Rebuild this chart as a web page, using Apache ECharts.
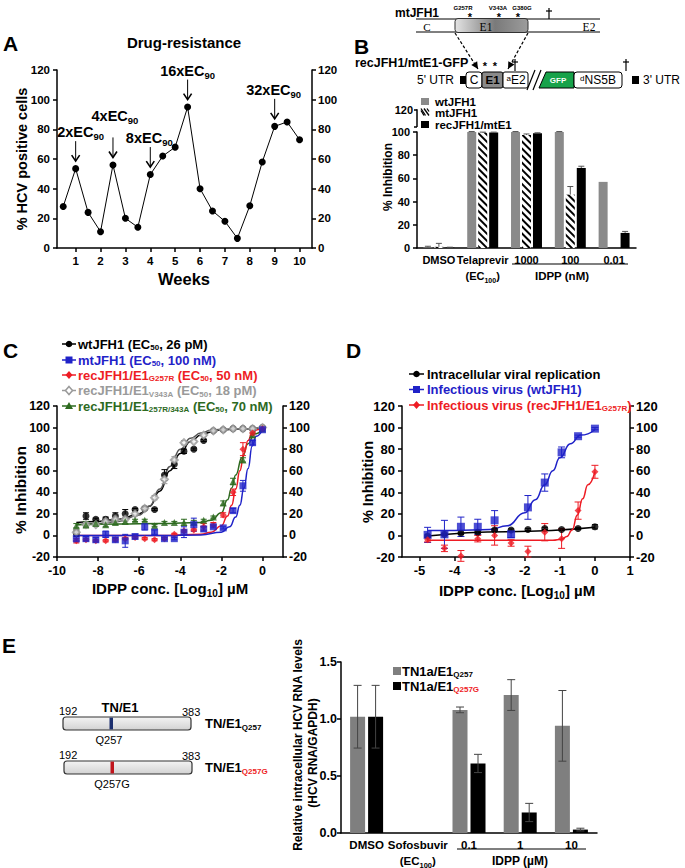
<!DOCTYPE html>
<html><head><meta charset="utf-8">
<script src="https://cdn.jsdelivr.net/npm/echarts@6/dist/echarts.min.js"></script>
<style>html,body{margin:0;padding:0;background:#fff}#c{width:685px;height:868px}</style>
</head><body><div id="c"></div><script>
// ================= DATA =================
// Panel A
const weeksA = [0.5,1,1.5,2,2.5,3,3.5,4,4.5,5,5.5,6,6.5,7,7.5,8,8.5,9,9.5,10];
const hcvPositiveA = [28,53.5,24,11,56,20,14,49.5,62,68,95,40,25,18,6.5,28.5,58,82,85,73];
const doseWeeksA = [1,2.5,4,5.5,9];
const doseFoldA = ['2','4','8','16','32'];
const weekTicksA = [1,2,3,4,5,6,7,8,9,10];
// Panel B
const catsB = ['DMSO','Telaprevir','1000','100','0.01'];
const wtB = [0.5,100,100,100,57];      const wtErrB = [1,0.4,0.4,0.4,0];
const mtB = [1,99.5,97.5,46,0];        const mtErrB = [3,0.4,0.8,7,0];
const recB = [0.3,99.5,99,69,13];      const recErrB = [0.4,0.4,0.3,1.5,1.3];
const legendB = ['wtJFH1','mtJFH1','recJFH1/mtE1'];
// Panel C
const logConcC = [-9.06,-8.59,-8.11,-7.63,-7.16,-6.68,-6.2,-5.73,-5.25,-4.77,-4.29,-3.82,-3.34,-2.86,-2.39,-1.91,-1.43,-0.95,-0.48,0];
const wtC    = [2,18,15,15,18,20,24,25,24,56,66,78,80,88,97,98,99,99,99,100];
const wtErrC = [3,3,1,2,3,4,1,1,1,5,4,2,1,1,1,1,0.5,0.5,0.5,0.5];
const mtC    = [-3,-3,-4,1,-4,-5,-1,8,3,-3,-3,3,10,6,8,7,23,46,86,98];
const mtErrC = [3,2,2,3,2,6,2,3,2,1,1,5,6,2,1,1,2,5,2,1];
const g257rC    = [-5,-4,-5,-5,-4,-3,-2,-3,-4,-3,1,4,5,8,10,19,40,80,95,99];
const g257rErrC = [2,1,1,1,1,1,1,1,1,1,1,1,1,3,2,2,3,6,2,1];
const v343aC    = [3,10,10,13,15,15,20,25,35,52,70,86,87,93,97,98,99,99,99,100];
const v343aErrC = [2,2,1,2,2,2,2,2,2,4,3,2,1,1,1,1,0.5,0.5,0.5,0.5];
const dblC    = [9,10,11,10,12,13,14,14,9,12,12,12,12,14,17,30,50,70,93,99];
const dblErrC = [2,3,1,2,2,2,1,1,1,1,1,3,2,1,1,2,3,2,2,1];
// fitted curves
const fitXwtC = [-9.06,-8,-7,-6,-5.5,-5,-4.5,-4,-3.5,-3,-2.5,-2,-1,0];
const fitYwtC = [12,13,15,20,27,41,60,76,87,93,96,98,99,99.5];
const fitXv343aC = [-9.06,-8,-7,-6,-5.5,-5,-4.5,-4,-3.5,-3,-2.5,-2,-1,0];
const fitYv343aC = [10,11,13,19,27,43,64,80,90,95,97.5,98.5,99,99.5];
const fitXdblC = [-9.06,-7,-5,-3,-2.5,-2,-1.7,-1.5,-1.3,-1,-0.7,-0.4,0];
const fitYdblC = [10,10.5,11,12,14,21,33,44,56,72,85,94,98];
const fitXg257rC = [-9.06,-5,-3,-2.5,-2,-1.7,-1.5,-1.3,-1.1,-0.9,-0.7,-0.5,-0.25,0];
const fitYg257rC = [0,0,1,3,9,18,28,43,60,76,88,95,98,99];
const fitXmtC = [-9.06,-5,-3,-2,-1.6,-1.3,-1.1,-0.9,-0.7,-0.5,-0.3,0];
const fitYmtC = [0,0,0.5,3,8,17,28,44,62,83,92,98];
const legendC = [
  '{m|wtJFH1 (EC}{s|50}{m|, 26 pM)}',
  '{m|mtJFH1 (EC}{s|50}{m|, 100 nM)}',
  '{m|recJFH1/E1}{s|G257R}{m| (EC}{s|50}{m|, 50 nM)}',
  '{m|recJFH1/E1}{s|V343A}{m| (EC}{s|50}{m|, 18 pM)}',
  '{m|recJFH1/E1}{s|257R/343A}{m| (EC}{s|50}{m|, 70 nM)}'
];
const logTicksC = [-10,-8,-6,-4,-2,0];
// Panel D
const logConcD = [-4.77,-4.29,-3.82,-3.34,-2.86,-2.39,-1.91,-1.43,-0.95,-0.48,0];
const replD    = [-0.5,1,2,3,5,5,5.5,6.5,5.5,6.5,8];
const replErrD = [1,1,1,1,1,1,1,1,1,1,2];
const wtVirD    = [0.5,1,8,8,14,1,26,49,77,92,99];
const wtVirErrD = [7,13,9,7,9,3,11,8,5,1,1];
const recVirD    = [-4,-12,-19,-3,0,-7,-15,3,-3,23,59];
const recVirErrD = [2,3,5,3,9,3,5,8,9,8,6];
const fitXreplD = [-4.77,-2.5,0];  const fitYreplD = [-0.5,3.5,7.5];
const fitXwtVirD = [-4.77,-4,-3,-2.5,-2,-1.7,-1.43,-1.2,-1,-0.7,-0.4,0];
const fitYwtVirD = [4.5,4.6,5.5,9,21,33,47,60,72,85,93,98];
const fitXrecVirD = [-4.77,-2,-1.2,-0.95,-0.8,-0.65,-0.5,-0.35,-0.2,0];
const fitYrecVirD = [-4.5,-4.5,-4.4,-3.5,-1,5,19,34,47,59];
const legendD = [
  '{m|Intracellular viral replication}',
  '{m|Infectious virus (wtJFH1)}',
  '{m|Infectious virus (recJFH1/E1}{s|G257R}{m|)}'
];
const logTicksD = [-5,-4,-3,-2,-1,0,1];
// Panel E
const catsE = ['DMSO','Sofosbuvir','0.1','1','10'];
const q257E  = [1.02,0,1.08,1.21,0.94];  const q257ErrE  = [0.275,0,0.025,0.135,0.31];
const q257gE = [1.02,0,0.61,0.18,0.03];  const q257gErrE = [0.275,0,0.08,0.08,0.012];

// ================= STYLE HELPERS =================
const FONT = "'Liberation Sans', Arial, Helvetica, sans-serif";
const SERIF = "'Liberation Serif', 'Times New Roman', serif";
const BLUE = '#1f22c8', RED = '#ee1c24', GRAY = '#9a9a9a', GREEN = '#2d6a1f';
const zip = (a, b) => a.map((v, i) => [v, b[i]]);
const zip3 = (a, b, c) => a.map((v, i) => [v, b[i], c[i]]);

function richDef(size, color, subColor, lhFactor) {
  const ss = Math.round(size * 0.64);
  const lh = Math.round(size * (lhFactor || 1.3));
  return {
    m: {fontSize: size, fontWeight: 'bold', fontFamily: FONT, color: color, fill: color, lineHeight: lh, verticalAlign: 'middle'},
    s: {fontSize: ss, fontWeight: 'bold', fontFamily: FONT, color: color, fill: color, lineHeight: ss, verticalAlign: 'bottom'},
    r: {fontSize: ss, fontWeight: 'bold', fontFamily: FONT, color: subColor || RED, fill: subColor || RED, lineHeight: ss, verticalAlign: 'bottom'},
    u: {fontSize: ss, fontWeight: 'normal', fontFamily: FONT, color: color, fill: color, lineHeight: ss, verticalAlign: 'top'},
    n: {fontSize: size, fontWeight: 'normal', fontFamily: FONT, color: color, fill: color, lineHeight: size, verticalAlign: 'top'}
  };
}
const AX = {color: '#000', width: 1.5};
function lab(size, extra) {
  return Object.assign({color: '#000', fontFamily: FONT, fontWeight: 'bold', fontSize: size, hideOverlap: false}, extra || {});
}
function valX(grid, min, max, ticks, size) {
  return {gridIndex: grid, type: 'value', min, max,
    axisLine: {show: true, onZero: false, lineStyle: AX},
    axisTick: {show: true, length: 4, lineStyle: AX, customValues: ticks},
    axisLabel: lab(size, {customValues: ticks, margin: 7}),
    splitLine: {show: false}};
}
function valY(grid, min, max, interval, pos, size, fmt, margin) {
  return {gridIndex: grid, type: 'value', min, max, interval, position: pos,
    axisLine: {show: true, onZero: false, lineStyle: AX},
    axisTick: {show: true, length: 4, lineStyle: AX},
    axisLabel: lab(size, {margin: margin != null ? margin : (pos === 'right' ? 6 : 7), formatter: fmt}),
    splitLine: {show: false}};
}

// ================= GRAPHICS (schematics, legends, titles) =================
const G = [];
function T(x, y, text, o) {
  o = o || {};
  const el = {type: 'text', x, y, rotation: o.rot || 0, z: 100,
    style: {text, fill: o.color || '#000', fontSize: o.size || 12, fontWeight: o.weight || 'bold',
      fontFamily: o.family || FONT, align: o.align || 'left', verticalAlign: 'middle'}};
  if (o.rich) el.style.rich = o.rich;
  G.push(el);
}
function L(x1, y1, x2, y2, o) {
  o = o || {};
  G.push({type: 'line', z: 100, shape: {x1, y1, x2, y2}, style: {stroke: o.color || '#000', lineWidth: o.lw || 1, lineDash: o.dash || null}});
}
function R(x, y, w, h, o) {
  o = o || {};
  G.push({type: 'rect', z: o.z || 100, shape: {x, y, width: w, height: h, r: o.r || 0},
    style: {fill: o.fill || '#fff', stroke: o.stroke || null, lineWidth: o.lw || 1}});
}
function dagger(x, yTop, yBot) {
  L(x, yTop, x, yBot, {lw: 1.2});
  L(x - 3, yTop + 3, x + 3, yTop + 3, {lw: 1.2});
}
function arrow(x1, y1, x2, y2) {
  L(x1, y1, x2, y2, {dash: [3, 2], lw: 1.2});
  const dx = x2 - x1, dy = y2 - y1, len = Math.hypot(dx, dy), ux = dx / len, uy = dy / len;
  const s = 7, w = 3.5;
  G.push({type: 'polygon', z: 101, shape: {points: [[x2, y2], [x2 - ux * s - uy * w, y2 - uy * s + ux * w], [x2 - ux * s + uy * w, y2 - uy * s - ux * w]]}, style: {fill: '#000'}});
}
function sym(kind, cx, cy, color) {
  let el;
  if (kind === 'circle') el = {type: 'circle', shape: {cx, cy, r: 3.3}, style: {fill: color}};
  else if (kind === 'rect') el = {type: 'rect', shape: {x: cx - 3.5, y: cy - 3.5, width: 7, height: 7}, style: {fill: color}};
  else if (kind === 'diamond') el = {type: 'polygon', shape: {points: [[cx, cy - 4], [cx + 3.5, cy], [cx, cy + 4], [cx - 3.5, cy]]}, style: {fill: color}};
  else if (kind === 'emptyDiamond') el = {type: 'polygon', shape: {points: [[cx, cy - 4], [cx + 3.5, cy], [cx, cy + 4], [cx - 3.5, cy]]}, style: {fill: '#fff', stroke: color, lineWidth: 1.5}};
  else el = {type: 'polygon', shape: {points: [[cx, cy - 4], [cx + 4, cy + 3], [cx - 4, cy + 3]]}, style: {fill: color}};
  el.z = 101; G.push(el);
}

// Panel letters
T(3, 43, 'A', {size: 21}); T(354, 46, 'B', {size: 21}); T(3, 350, 'C', {size: 21});
T(346, 350, 'D', {size: 21}); T(2, 645, 'E', {size: 21});

// Panel A texts
T(184, 42, 'Drug-resistance', {size: 15, align: 'center'});
T(22, 159, '% HCV positive cells', {size: 14.5, align: 'center', rot: Math.PI / 2});
T(184, 279, 'Weeks', {size: 16.5, align: 'center'});

// Panel B schematic: mtJFH1
T(395, 12.5, 'mtJFH1', {size: 12});
L(416, 19, 600, 19, {lw: 1}); L(416, 32, 600, 32, {lw: 1});
G.push({type: 'rect', z: 100, shape: {x: 455, y: 18.5, width: 73, height: 14, r: 3},
  style: {stroke: '#333', lineWidth: 1, fill: {type: 'linear', x: 0, y: 0, x2: 1, y2: 0,
    colorStops: [{offset: 0, color: '#e4e4e4'}, {offset: 0.55, color: '#7a7a7a'}, {offset: 1, color: '#9c9c9c'}]}}});
T(427, 26.5, 'C', {size: 11, weight: 'normal', family: SERIF, align: 'center'});
T(486, 26.5, 'E1', {size: 11.5, weight: 'normal', family: SERIF, align: 'center'});
T(589, 26.5, 'E2', {size: 11.5, weight: 'normal', family: SERIF, align: 'center'});
T(463, 7.5, 'G257R', {size: 6, align: 'center'}); T(498, 7.5, 'V343A', {size: 6, align: 'center'}); T(522, 7.5, 'G380G', {size: 6, align: 'center'});
T(470, 17, '*', {size: 11, align: 'center'}); T(499, 17, '*', {size: 11, align: 'center'}); T(518, 17, '*', {size: 11, align: 'center'});
dagger(549, 8, 19);
arrow(455, 33, 478, 69); arrow(528, 33, 508, 69);
// recJFH1/mtE1-GFP
T(355, 63, 'recJFH1/mtE1-GFP', {size: 12.5});
T(417, 80, "5' UTR", {size: 12, weight: 'normal'});
R(460, 76, 7, 8, {fill: '#000'});
R(466, 72, 16, 16, {stroke: '#000', r: 3});
T(474, 80, 'C', {size: 12, weight: 'normal', align: 'center'});
R(482, 72, 21, 16, {fill: '#8a8a8a', stroke: '#000', r: 2});
T(492.5, 80, 'E1', {size: 11.5, align: 'center'});
R(503, 72, 25, 16, {stroke: '#000', r: 2});
T(516, 80, '{u|a}{n|E2}', {size: 12, weight: 'normal', align: 'center', rich: richDef(12, '#000')});
L(527, 90, 535, 70, {lw: 1.2}); L(533, 90, 541, 70, {lw: 1.2});
G.push({type: 'polygon', z: 100, shape: {points: [[539, 88], [546, 72], [574, 72], [574, 88]]}, style: {fill: '#17a24a', stroke: '#000', lineWidth: 1}});
T(558, 80, 'GFP', {size: 8, color: '#fff', align: 'center'});
R(574, 72, 48, 16, {stroke: '#000', r: 3});
T(598, 80, '{u|d}{n|NS5B}', {size: 12, weight: 'normal', align: 'center', rich: richDef(12, '#000')});
R(632, 76, 7, 8, {fill: '#000'});
T(643, 80, "3' UTR", {size: 12, weight: 'normal'});
T(485, 66, '*', {size: 11, align: 'center'}); T(495, 66, '*', {size: 11, align: 'center'});
dagger(515, 59, 71); dagger(626, 59, 71);
// Panel B legend & extras
R(421, 98, 8, 7, {fill: '#8a8a8a'});
R(421, 108.5, 8, 7, {fill: '#fff'});
L(421, 110.5, 424, 115.5, {lw: 1.3}); L(421, 108.5, 425.5, 115.5, {lw: 1.3}); L(424, 108.5, 429, 115.5, {lw: 1.3}); L(427, 108.5, 429, 111.5, {lw: 1.3});
R(421, 121, 8, 7, {fill: '#000'});
T(435, 101.5, legendB[0], {size: 11.5}); T(435, 112.5, legendB[1], {size: 11.5}); T(435, 124.5, legendB[2], {size: 11.5});
T(413, 110, '120', {size: 11, align: 'right'});
L(414, 110, 417, 110, {lw: 1.5}); L(417, 109.3, 417, 127, {lw: 1.5}); L(414, 127, 417, 127, {lw: 1.5});
T(388, 177, '% Inhibition', {size: 12, align: 'center', rot: Math.PI / 2});
L(512, 264, 628, 264, {lw: 1.2});
T(562, 276, 'IDPP (nM)', {size: 11.5, align: 'center'});

// Panel C legend & labels
const legSymC = ['circle', 'rect', 'diamond', 'emptyDiamond', 'triangle'];
const legColC = ['#000', BLUE, RED, GRAY, GREEN];
const legYC = [344, 360, 375, 390.5, 406];
legendC.forEach((t, i) => {
  L(62, legYC[i], 76, legYC[i], {color: legColC[i], lw: 1.5});
  sym(legSymC[i], 69, legYC[i], legColC[i]);
  T(78, legYC[i], t, {size: 13, rich: richDef(13, legColC[i], null, 1.18)});
});
T(20, 490, '% Inhibition', {size: 15.5, align: 'center', rot: Math.PI / 2});
T(170, 588, '{m|IDPP conc. [Log}{s|10}{m|] \u00b5M}', {size: 15, align: 'center', rich: richDef(15, '#000')});

// Panel D legend & labels
const legSymD = ['circle', 'rect', 'diamond'];
const legColD = ['#000', BLUE, RED];
const legYD = [374, 389.5, 405];
legendD.forEach((t, i) => {
  L(409, legYD[i], 424, legYD[i], {color: legColD[i], lw: 1.5});
  sym(legSymD[i], 416.5, legYD[i], legColD[i]);
  T(427, legYD[i], t, {size: 13, rich: richDef(13, legColD[i], null, 1.18)});
});
T(368, 482, '% Inhibition', {size: 14.5, align: 'center', rot: Math.PI / 2});
T(517, 590, '{m|IDPP conc. [Log}{s|10}{m|] \u00b5M}', {size: 15, align: 'center', rich: richDef(15, '#000')});

// Panel E schematic
const barGrad = {type: 'linear', x: 0, y: 0, x2: 0, y2: 1, colorStops: [{offset: 0, color: '#f4f4f4'}, {offset: 1, color: '#d2d2d2'}]};
T(120, 707, 'TN/E1', {size: 13, align: 'center'});
T(59, 711, '192', {size: 11, weight: 'normal'}); T(182, 712, '383', {size: 11, weight: 'normal'});
G.push({type: 'rect', z: 100, shape: {x: 63, y: 717, width: 128, height: 13, r: 3}, style: {fill: barGrad, stroke: '#333', lineWidth: 1.2}});
R(109.5, 717.6, 3.5, 11.8, {fill: '#1c2f6e', z: 101});
T(109, 740, 'Q257', {size: 11, weight: 'normal', align: 'center'});
T(205, 723, '{m|TN/E1}{s|Q257}', {size: 13, rich: richDef(13, '#000')});
T(59, 755, '192', {size: 11, weight: 'normal'}); T(182, 756, '383', {size: 11, weight: 'normal'});
G.push({type: 'rect', z: 100, shape: {x: 64, y: 761, width: 128, height: 13, r: 3}, style: {fill: barGrad, stroke: '#333', lineWidth: 1.2}});
R(110.5, 761.6, 3.5, 11.8, {fill: '#c0141c', z: 101});
T(112, 784, 'Q257G', {size: 11, weight: 'normal', align: 'center'});
T(205, 767, '{m|TN/E1}{r|Q257G}', {size: 13, rich: richDef(13, '#000')});
// Panel E legend & labels
R(393, 667, 8, 8, {fill: '#7f7f7f'}); R(393, 682, 8, 8, {fill: '#000'});
T(402, 671, '{m|TN1a/E1}{s|Q257}', {size: 13, rich: richDef(13, '#000', null, 1.15)});
T(402, 686, '{m|TN1a/E1}{r|Q257G}', {size: 13, rich: richDef(13, '#000', null, 1.15)});
T(298, 745, 'Relative intracellular HCV RNA levels', {size: 12, align: 'center', rot: Math.PI / 2});
T(313, 753, '(HCV RNA/GAPDH)', {size: 12, align: 'center', rot: Math.PI / 2});
L(457, 849, 586, 849, {lw: 1.2});
T(520, 861, 'IDPP (\u00b5M)', {size: 12, align: 'center'});

// ================= SERIES HELPERS =================
function errSeries(xi, yi, data, o) {
  return {type: 'custom', coordinateSystem: 'cartesian2d', xAxisIndex: xi, yAxisIndex: yi, z: o.z || 3, silent: true,
    data: data,
    renderItem: function (params, api) {
      const x = api.value(0), y = api.value(1), e = api.value(2);
      if (!(e > 0)) return null;
      const top = api.coord([x, y + e]);
      const bot = api.coord([x, o.oneSided ? y : y - e]);
      const cx = top[0] + (o.off || 0), c = o.cap || 3;
      const st = {stroke: o.color, lineWidth: o.lw || 1};
      const ch = [
        {type: 'line', shape: {x1: cx, y1: top[1], x2: cx, y2: bot[1]}, style: st},
        {type: 'line', shape: {x1: cx - c, y1: top[1], x2: cx + c, y2: top[1]}, style: st}
      ];
      if (!o.oneSided) ch.push({type: 'line', shape: {x1: cx - c, y1: bot[1], x2: cx + c, y2: bot[1]}, style: st});
      return {type: 'group', children: ch};
    }};
}
function fitLine(xi, yi, xs, ys, color) {
  return {type: 'line', xAxisIndex: xi, yAxisIndex: yi, data: zip(xs, ys), smooth: 0.5, smoothMonotone: 'x',
    showSymbol: false, symbol: 'none', silent: true, z: 2, lineStyle: {color, width: 1.5}};
}
function pts(xi, yi, xs, ys, color, symbol, size) {
  const st = symbol === 'emptyDiamond' ? {color: color, borderColor: color, borderWidth: 1.5} : {color: color};
  return {type: 'scatter', xAxisIndex: xi, yAxisIndex: yi, data: zip(xs, ys), symbol, symbolSize: size || 7, z: 4, itemStyle: st};
}
const annotShift = [5, 2, -1, 0, -1];
const annotLift = [0, 12, 0, 0, 0];
const annotRich = {
  m: {fontSize: 14.5, fontWeight: 'bold', fontFamily: FONT, fill: '#000', color: '#000', lineHeight: 19, verticalAlign: 'middle'},
  s: {fontSize: 9.5, fontWeight: 'bold', fontFamily: FONT, fill: '#000', color: '#000', lineHeight: 9.5, verticalAlign: 'bottom'}
};

const catRichB = {
  m: {fontSize: 11, fontWeight: 'bold', fontFamily: FONT, color: '#000', lineHeight: 16, verticalAlign: 'middle'},
  s: {fontSize: 7, fontWeight: 'bold', fontFamily: FONT, color: '#000', lineHeight: 7, verticalAlign: 'bottom'}
};
const catRichE = {
  m: {fontSize: 11.5, fontWeight: 'bold', fontFamily: FONT, color: '#000', lineHeight: 16, verticalAlign: 'middle'},
  s: {fontSize: 7.5, fontWeight: 'bold', fontFamily: FONT, color: '#000', lineHeight: 7.5, verticalAlign: 'bottom'}
};

// ================= OPTION =================
const option = {
  animation: false,
  backgroundColor: '#fff',
  textStyle: {fontFamily: FONT},
  grid: [
    {left: 57, top: 70, width: 255, height: 178, outerBoundsMode: 'none'},
    {left: 417, top: 132, width: 219, height: 116, outerBoundsMode: 'none'},
    {left: 57, top: 406, width: 226, height: 151, outerBoundsMode: 'none'},
    {left: 402, top: 406, width: 228, height: 151, outerBoundsMode: 'none'},
    {left: 341, top: 662, width: 256, height: 171, outerBoundsMode: 'none'}
  ],
  xAxis: [
    valX(0, 0.25, 10.5, weekTicksA, 11.5),
    {gridIndex: 1, type: 'category', data: catsB,
      axisLine: {show: true, onZero: false, lineStyle: AX}, axisTick: {show: false},
      axisLabel: {interval: 0, margin: 4, hideOverlap: false, rich: catRichB,
        formatter: v => v === 'Telaprevir' ? '{m|Telaprevir}\n{m|(EC}{s|100}{m|)}' : '{m|' + v + '}'},
      splitLine: {show: false}},
    valX(2, -10, 1, logTicksC, 12.5),
    valX(3, -5.5, 1, logTicksD, 13),
    {gridIndex: 4, type: 'category', data: catsE,
      axisLine: {show: true, onZero: false, lineStyle: AX}, axisTick: {show: false},
      axisLabel: {interval: 0, margin: 4, hideOverlap: false, rich: catRichE,
        formatter: v => v === 'Sofosbuvir' ? '{m|Sofosbuvir}\n{m|(EC}{s|100}{m|)}' : '{m|' + v + '}'},
      splitLine: {show: false}}
  ],
  yAxis: [
    valY(0, 0, 120, 20, 'left', 11.5),
    valY(0, 0, 120, 20, 'right', 11.5),
    valY(1, 0, 100, 20, 'left', 11),
    valY(2, -20, 120, 20, 'left', 12.5),
    valY(2, -20, 120, 20, 'right', 12.5),
    valY(3, -20, 120, 20, 'left', 13),
    valY(3, -20, 120, 20, 'right', 13),
    valY(4, 0, 1.5, 0.5, 'left', 12.5, v => v.toFixed(1), 4)
  ],
  series: [
    // ---- A ----
    {type: 'line', xAxisIndex: 0, yAxisIndex: 0, data: zip(weeksA, hcvPositiveA), symbol: 'circle', symbolSize: 7,
      lineStyle: {color: '#000', width: 1}, itemStyle: {color: '#000'}, z: 3},
    {type: 'custom', coordinateSystem: 'cartesian2d', xAxisIndex: 0, yAxisIndex: 0, z: 5, silent: true,
      data: doseWeeksA.map((w, i) => [w, hcvPositiveA[weeksA.indexOf(w)], i]),
      renderItem: function (params, api) {
        const i = api.value(2);
        const p = api.coord([api.value(0), api.value(1)]);
        const x = p[0], yb = p[1] - 7.5, yt = yb - 20;
        return {type: 'group', children: [
          {type: 'line', shape: {x1: x, y1: yt, x2: x, y2: yb}, style: {stroke: '#000', lineWidth: 1}},
          {type: 'polyline', shape: {points: [[x - 4, yb - 6], [x, yb], [x + 4, yb - 6]]}, style: {stroke: '#000', lineWidth: 1.6, fill: null}},
          {type: 'text', x: x + annotShift[i], y: yt - 9 - annotLift[i],
            style: {text: '{m|' + doseFoldA[i] + 'xEC}{s|90}', rich: annotRich, align: 'center', verticalAlign: 'middle'}}
        ]};
      }},
    // ---- B ----
    {type: 'bar', xAxisIndex: 1, yAxisIndex: 2, data: wtB, barWidth: 9, barGap: '22%', itemStyle: {color: '#8a8a8a'}},
    {type: 'bar', xAxisIndex: 1, yAxisIndex: 2, data: mtB, barWidth: 9, barGap: '22%',
      itemStyle: {color: '#fff', decal: {symbol: 'rect', symbolSize: 1, color: '#000', backgroundColor: '#fff', dashArrayX: [1, 0], dashArrayY: [2, 2.2], rotation: Math.PI / 4}}},
    {type: 'bar', xAxisIndex: 1, yAxisIndex: 2, data: recB, barWidth: 9, barGap: '22%', itemStyle: {color: '#000'}},
    errSeries(1, 2, catsB.map((c, i) => [i, wtB[i], wtErrB[i]]), {off: -11, oneSided: true, color: '#555', cap: 3, z: 5}),
    errSeries(1, 2, catsB.map((c, i) => [i, mtB[i], mtErrB[i]]), {off: 0, oneSided: true, color: '#555', cap: 3, z: 5}),
    errSeries(1, 2, catsB.map((c, i) => [i, recB[i], recErrB[i]]), {off: 11, oneSided: true, color: '#555', cap: 3, z: 5}),
    // ---- C ----
    fitLine(2, 3, fitXwtC, fitYwtC, '#000'),
    fitLine(2, 3, fitXv343aC, fitYv343aC, '#555'),
    fitLine(2, 3, fitXdblC, fitYdblC, GREEN),
    fitLine(2, 3, fitXg257rC, fitYg257rC, RED),
    fitLine(2, 3, fitXmtC, fitYmtC, BLUE),
    errSeries(2, 3, zip3(logConcC, wtC, wtErrC), {color: '#000', cap: 3}),
    errSeries(2, 3, zip3(logConcC, v343aC, v343aErrC), {color: GRAY, cap: 3}),
    errSeries(2, 3, zip3(logConcC, dblC, dblErrC), {color: GREEN, cap: 3}),
    errSeries(2, 3, zip3(logConcC, g257rC, g257rErrC), {color: RED, cap: 3}),
    errSeries(2, 3, zip3(logConcC, mtC, mtErrC), {color: BLUE, cap: 3}),
    pts(2, 3, logConcC, wtC, '#000', 'circle', 7),
    pts(2, 3, logConcC, v343aC, GRAY, 'emptyDiamond', 7),
    pts(2, 3, logConcC, dblC, GREEN, 'triangle', 7),
    pts(2, 3, logConcC, g257rC, RED, 'diamond', 7),
    pts(2, 3, logConcC, mtC, BLUE, 'rect', 7),
    // ---- D ----
    fitLine(3, 5, fitXreplD, fitYreplD, '#000'),
    fitLine(3, 5, fitXwtVirD, fitYwtVirD, BLUE),
    fitLine(3, 5, fitXrecVirD, fitYrecVirD, RED),
    errSeries(3, 5, zip3(logConcD, replD, replErrD), {color: '#000', cap: 3}),
    errSeries(3, 5, zip3(logConcD, wtVirD, wtVirErrD), {color: BLUE, cap: 3.5}),
    errSeries(3, 5, zip3(logConcD, recVirD, recVirErrD), {color: RED, cap: 3.5}),
    pts(3, 5, logConcD, replD, '#000', 'circle', 7),
    pts(3, 5, logConcD, wtVirD, BLUE, 'rect', 8),
    pts(3, 5, logConcD, recVirD, RED, 'diamond', 7),
    // ---- E ----
    {type: 'bar', xAxisIndex: 4, yAxisIndex: 7, data: q257E, barWidth: 15, barGap: '20%', itemStyle: {color: '#7f7f7f'}},
    {type: 'bar', xAxisIndex: 4, yAxisIndex: 7, data: q257gE, barWidth: 15, barGap: '20%', itemStyle: {color: '#000'}},
    errSeries(4, 7, catsE.map((c, i) => [i, q257E[i], q257ErrE[i]]), {off: -9, color: '#444', cap: 4, z: 5}),
    errSeries(4, 7, catsE.map((c, i) => [i, q257gE[i], q257gErrE[i]]), {off: 9, color: '#444', cap: 4, z: 5})
  ],
  graphic: {elements: G}
};

const chart = echarts.init(document.getElementById('c'), null, {renderer: 'svg', width: 685, height: 868});
chart.setOption(option);
</script></body></html>
